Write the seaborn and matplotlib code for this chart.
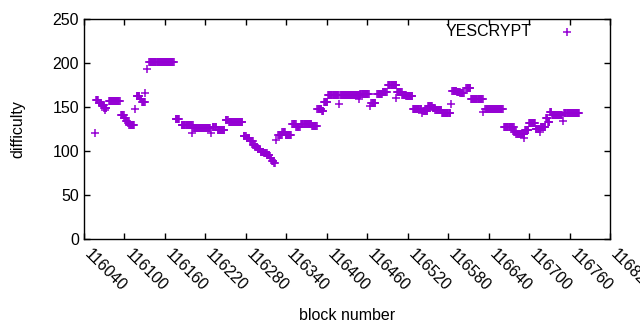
import numpy as np
import pandas as pd
import matplotlib
matplotlib.use("Agg")
import matplotlib.pyplot as plt
import matplotlib.transforms as mtransforms
import seaborn as sns

# Runs of constant difficulty: (first block, last block, difficulty)
seg_start = [116058, 116062, 116066, 116070, 116077, 116095, 116100, 116103, 116105, 116107,
             116118, 116123, 116126, 116137, 116176, 116185, 116202, 116231, 116238, 116250,
             116255, 116277, 116281, 116286, 116291, 116294, 116298, 116302, 116307, 116312,
             116316, 116319, 116322, 116328, 116334, 116339, 116349, 116355, 116362, 116378,
             116386, 116393, 116396, 116402, 116420, 116450, 116466, 116475, 116483, 116491,
             116504, 116512, 116518, 116528, 116543, 116550, 116557, 116561, 116571, 116586,
             116593, 116598, 116607, 116614, 116635, 116663, 116678, 116681, 116694, 116700,
             116710, 116717, 116725, 116728, 116731, 116734, 116752]
seg_end = [116061, 116065, 116069, 116073, 116093, 116099, 116102, 116104, 116106, 116114,
           116122, 116125, 116130, 116173, 116181, 116201, 116227, 116236, 116248, 116253,
           116275, 116280, 116285, 116290, 116293, 116297, 116301, 116306, 116311, 116315,
           116318, 116321, 116323, 116333, 116338, 116347, 116354, 116360, 116377, 116385,
           116392, 116395, 116401, 116417, 116449, 116462, 116472, 116482, 116489, 116503,
           116511, 116517, 116527, 116540, 116549, 116556, 116560, 116570, 116583, 116592,
           116597, 116603, 116613, 116631, 116661, 116677, 116680, 116693, 116699, 116709,
           116715, 116724, 116727, 116730, 116733, 116749, 116774]
seg_value = [158, 155, 152, 148.5, 157, 141, 137.5, 134.5, 132, 129,
             162, 159, 156, 201, 136, 129.5, 126, 127.5, 124, 135,
             133, 117, 114.5, 111.7, 107, 104, 102, 99, 97.3, 95.4,
             91.7, 88.6, 86, 118, 122, 118.5, 130.5, 127, 130.7, 128.4,
             147.3, 145.5, 155.3, 163.3, 163.5, 164.8, 154, 164.4, 166.7, 175,
             167, 163.8, 162.5, 147.3, 145.8, 151.5, 148.5, 146.2, 142.8, 168.2,
             167, 165.5, 171.2, 158.7, 147.3, 126.8, 122, 119, 124, 131.4,
             124.6, 127.5, 137, 133.3, 144.5, 141, 142.8]

# Isolated blocks
single_block = [116057, 116071, 116116, 116131, 116134, 116200, 116229, 116325, 116418, 116448,
                116464, 116502, 116541, 116584, 116632, 116692, 116716, 116750]
single_value = [121, 146.6, 147.7, 165.5, 192.8, 120.5, 120, 112.5, 153, 158.7,
                151, 160, 143, 153, 144.7, 114.4, 122, 134.5]

x_ticks = [116040, 116100, 116160, 116220, 116280, 116340, 116400, 116460,
           116520, 116580, 116640, 116700, 116760, 116820]
y_ticks = [0, 50, 100, 150, 200, 250]

blocks = np.concatenate([np.arange(s, e + 1) for s, e in zip(seg_start, seg_end)] + [np.array(single_block)])
values = np.concatenate([np.full(e - s + 1, v, dtype=float) for s, e, v in zip(seg_start, seg_end, seg_value)]
                        + [np.array(single_value, dtype=float)])
df = pd.DataFrame({"block": blocks, "difficulty": values}).sort_values("block")

sns.set_style("ticks")
plt.rcParams["font.family"] = ["Liberation Sans", "DejaVu Sans"]
plt.rcParams["text.color"] = "black"
plt.rcParams["axes.labelcolor"] = "black"

fig = plt.figure(figsize=(6.4, 3.3), dpi=100)
ax = fig.add_axes([84 / 640, 91 / 330, 526 / 640, 220 / 330])

sns.scatterplot(data=df, x="block", y="difficulty", marker="+", color="#9400d3",
                s=30, linewidth=1.1, ax=ax, label="YESCRYPT")

ax.set_xlim(116040, 116820)
ax.set_ylim(0, 250)
ax.set_xticks(x_ticks)
ax.set_xticklabels([str(t) for t in x_ticks])
ax.set_yticks(y_ticks)
ax.tick_params(direction="in", top=True, right=True, length=4, width=1,
               labelsize=11.5, colors="black", labelcolor="black")
ax.tick_params(axis="x", pad=9.5)
shift = mtransforms.ScaledTranslation(3 / 100, 0, fig.dpi_scale_trans)
for lab in ax.get_xticklabels():
    lab.set_rotation(-45)
    lab.set_ha("left")
    lab.set_va("center")
    lab.set_rotation_mode("anchor")
    lab.set_transform(lab.get_transform() + shift)
for sp in ax.spines.values():
    sp.set_visible(True)
    sp.set_linewidth(1)
    sp.set_color("black")

ax.set_xlabel("block number", fontsize=11.5, color="black")
ax.set_ylabel("difficulty", fontsize=11.5, color="black")
ax.xaxis.set_label_coords(0.5, -0.315)
ax.yaxis.set_label_coords(-0.112, 0.5)

leg = ax.legend(loc="upper right", bbox_to_anchor=(0.9487, 0.975), frameon=False,
                markerfirst=False, fontsize=11.5, handlelength=2, handletextpad=1.2,
                borderaxespad=0, borderpad=0)
for t in leg.get_texts():
    t.set_color("black")

fig.savefig("out.png", dpi=100)
